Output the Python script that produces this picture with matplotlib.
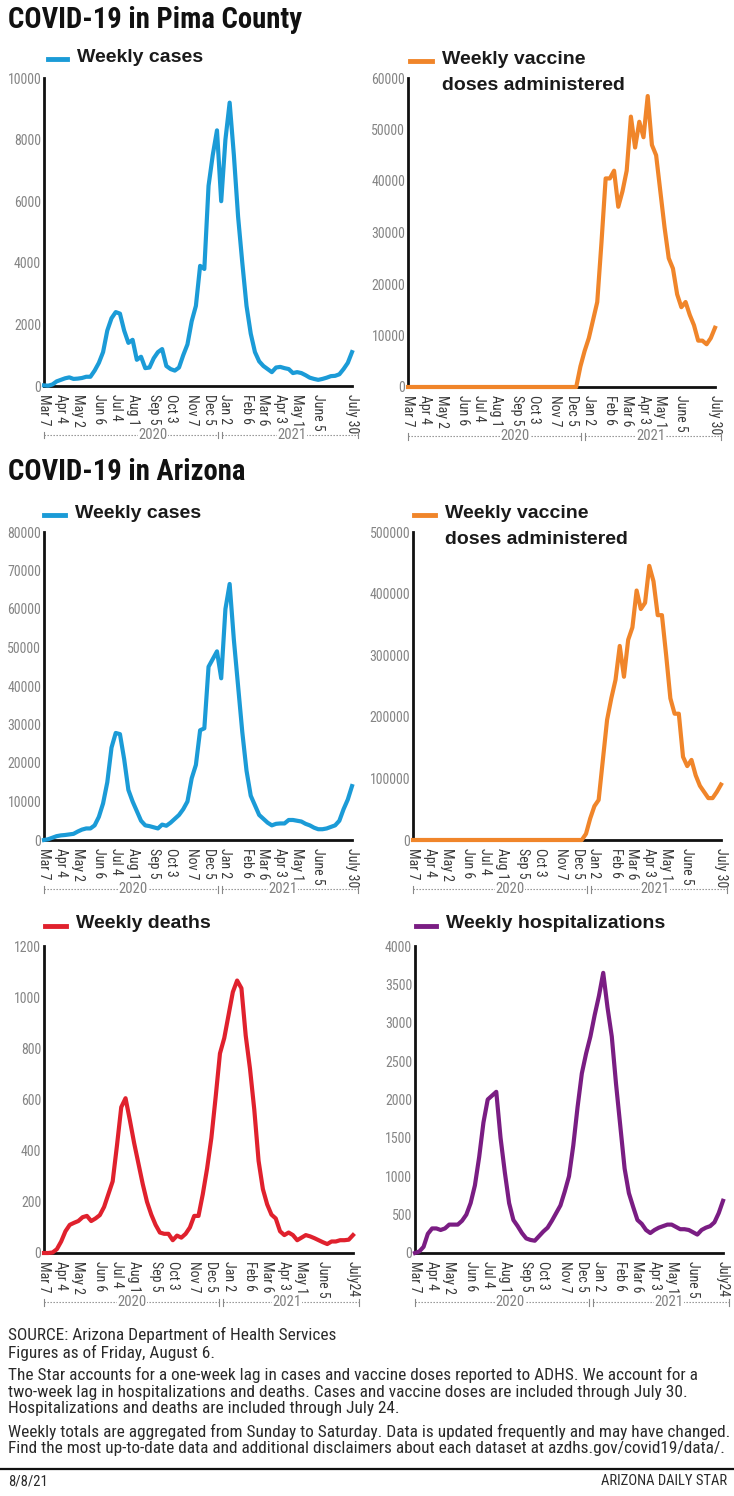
import numpy as np
import matplotlib
matplotlib.use('Agg')
import matplotlib.pyplot as plt
from matplotlib.lines import Line2D
from matplotlib import font_manager as fm

W, H = 734, 1496

# ---- data (weekly, first week = Mar 7 2020) ----
pima_cases = [20, 10, 50, 150, 200, 250, 280, 230, 240, 260, 300, 300, 500, 750, 1100,
              1800, 2200, 2400, 2350, 1800, 1400, 1500, 850, 950, 580, 600, 900, 1100,
              1200, 650, 550, 500, 600, 1000, 1350, 2100, 2600, 3900, 3800, 6500, 7500,
              8300, 6000, 8000, 9200, 7500, 5500, 4000, 2600, 1700, 1100, 800, 650, 550,
              450, 600, 620, 580, 550, 420, 450, 420, 350, 270, 230, 200, 230, 270, 320,
              330, 380, 550, 750, 1100]
pima_vax = [0] * 41 + [4000, 7000, 9500, 13000, 16500, 28000, 40500, 40500, 42000, 35000,
                       38000, 42000, 52500, 46500, 51500, 48500, 56500, 47000, 45000, 38000,
                       31000, 25000, 23000, 18000, 15500, 16500, 14000, 12000, 9000, 9000,
                       8300, 9500, 11500]
az_cases = [0, 200, 600, 1000, 1200, 1300, 1450, 1600, 2200, 2700, 3000, 3000, 3800, 6000,
            9500, 15000, 24000, 27800, 27500, 21000, 13000, 10000, 7500, 5000, 3800, 3600,
            3300, 3000, 4000, 3700, 4500, 5500, 6500, 8000, 10000, 16000, 19500, 28500,
            29000, 45000, 47000, 49000, 42000, 60000, 66500, 52000, 40000, 28000, 18000,
            11500, 9000, 6500, 5500, 4500, 3800, 4200, 4300, 4300, 5200, 5200, 5000, 4800,
            4200, 3800, 3200, 2800, 2800, 3000, 3400, 3800, 5000, 8000, 10500, 14000]
az_vax = [0] * 41 + [10000, 35000, 55000, 65000, 130000, 195000, 230000, 260000, 315000,
                     265000, 325000, 345000, 405000, 375000, 385000, 445000, 420000, 365000,
                     365000, 300000, 230000, 205000, 205000, 135000, 120000, 130000, 105000,
                     88000, 78000, 68000, 68000, 78000, 90000]
az_deaths = [0, 0, 2, 15, 45, 85, 110, 118, 125, 140, 145, 125, 135, 148, 180, 230, 280,
             420, 570, 605, 520, 430, 350, 270, 200, 150, 110, 80, 75, 75, 50, 68, 60, 75,
             100, 145, 145, 230, 330, 450, 610, 780, 840, 930, 1020, 1065, 1035, 850, 720,
             560, 360, 250, 190, 150, 135, 85, 70, 80, 70, 50, 60, 70, 65, 58, 50, 42, 35,
             45, 45, 50, 50, 52, 70]
az_hosp = [0, 20, 80, 250, 320, 320, 300, 320, 370, 370, 370, 420, 500, 650, 880, 1250,
           1700, 2000, 2050, 2100, 1500, 1050, 650, 430, 350, 260, 190, 170, 160, 220, 280,
           330, 420, 520, 620, 800, 1000, 1400, 1900, 2340, 2600, 2820, 3100, 3350, 3650,
           3200, 2820, 2200, 1650, 1100, 780, 600, 430, 380, 300, 260, 300, 330, 350, 370,
           370, 340, 310, 310, 300, 270, 240, 300, 330, 350, 400, 520, 680]

tick_weeks = [0, 4, 8, 13, 17, 21, 26, 30, 35, 39, 43, 48, 52, 56, 60, 65]
tick_labels = ['Mar 7', 'Apr 4', 'May 2', 'Jun 6', 'Jul 4', 'Aug 1', 'Sep 5', 'Oct 3',
               'Nov 7', 'Dec 5', 'Jan 2', 'Feb 6', 'Mar 6', 'Apr 3', 'May 1', 'June 5']

BLUE = '#1b9bd7'
ORANGE = '#f0852a'
RED = '#e0212d'
PURPLE = '#7a1d83'


def pick(*names):
    avail = {f.name for f in fm.fontManager.ttflist}
    for n in names:
        if n in avail:
            return n
    return 'DejaVu Sans'


NARROW = pick('Liberation Sans Narrow', 'Roboto Condensed', 'DejaVu Sans')
SANS = pick('Liberation Sans', 'Roboto', 'DejaVu Sans')

fig = plt.figure(figsize=(W / 100, H / 100), dpi=100)


def fx(x):
    return x / W


def fy(y):
    return 1 - y / H


def legend(x0, x1, y, color, lines):
    fig.add_artist(Line2D([fx(x0), fx(x1)], [fy(y), fy(y)], color=color, lw=3.5,
                          transform=fig.transFigure))
    for i, s in enumerate(lines):
        fig.text(fx(x1 + 10), fy(y - 2 + 27 * i), s, fontsize=14, fontweight='bold',
                 family=SANS, color='#1a1a1a', va='center', ha='left')


def panel(rect, values, color, ymax, ystep, last_label, yr):
    l, t, r, b = rect
    ax = fig.add_axes([fx(l), fy(b), (r - l) / W, (b - t) / H])
    x = np.arange(len(values))
    ax.plot(x, values, color=color, lw=3, clip_on=False, zorder=5,
            solid_joinstyle='round')
    ax.set_xlim(0, len(values) - 1)
    ax.set_ylim(0, ymax)
    ax.set_yticks(np.arange(0, ymax + 1, ystep))
    ax.set_xticks(tick_weeks + [len(values) - 1])
    ax.set_xticklabels(tick_labels + [last_label], rotation=270, fontsize=10,
                       family=NARROW, color='#3a3a3a', ha='center', va='top')
    for lab in ax.get_yticklabels():
        lab.set_family(NARROW)
        lab.set_fontsize(10)
        lab.set_color('#858585')
    ax.tick_params(length=0, pad=2)
    ax.tick_params(axis='x', pad=5.5)
    for s in ['top', 'right']:
        ax.spines[s].set_visible(False)
    for s in ['left', 'bottom']:
        ax.spines[s].set_linewidth(2)
        ax.spines[s].set_color('#111111')
    ax.patch.set_alpha(0)

    # year bracket under the dates
    yb = -49 / (b - t)
    h = 3.5 / (b - t)
    kw = dict(transform=ax.transAxes, clip_on=False, color='#888888', lw=0.8)
    ax.plot([0, 0.565], [yb, yb], ls=(0, (1.2, 1.5)), **kw)
    ax.plot([0.578, 1.02], [yb, yb], ls=(0, (1.2, 1.5)), **kw)
    for xv in [0, 0.565, 0.578, 1.02]:
        ax.plot([xv, xv], [yb - h, yb + h], **kw)
    for xv, s in zip(yr, ['2020', '2021']):
        ax.text(xv, yb, s, transform=ax.transAxes, ha='center', va='center',
                fontsize=10.5, family=NARROW, color='#808080',
                bbox=dict(fc='white', ec='none', pad=0.3))
    return ax


# section titles
fig.text(fx(8), fy(20), 'COVID-19 in Pima County', fontsize=20.6, fontweight='bold',
         family=NARROW, color='#111111', va='center', ha='left')
fig.text(fx(8), fy(472), 'COVID-19 in Arizona', fontsize=20.6, fontweight='bold',
         family=NARROW, color='#111111', va='center', ha='left')

# Pima
panel((44, 78, 352, 386), pima_cases, BLUE, 10000, 2000, 'July 30', (0.354, 0.805))
legend(48, 67, 59, BLUE, ['Weekly cases'])
panel((408, 78, 715, 387), pima_vax, ORANGE, 60000, 10000, 'July 30', (0.35, 0.79))
legend(410, 432, 61, ORANGE, ['Weekly vaccine', 'doses administered'])

# Arizona
panel((44, 532, 352, 840), az_cases, BLUE, 80000, 10000, 'July 30', (0.29, 0.776))
legend(44, 65, 515, BLUE, ['Weekly cases'])
panel((413, 532, 721, 840), az_vax, ORANGE, 500000, 100000, 'July 30', (0.315, 0.786))
legend(414, 435, 515, ORANGE, ['Weekly vaccine', 'doses administered'])

panel((44, 946, 353, 1253), az_deaths, RED, 1200, 200, 'July24', (0.285, 0.787))
legend(45, 66, 926, RED, ['Weekly deaths'])
panel((415, 946, 723, 1253), az_hosp, PURPLE, 4000, 500, 'July24', (0.31, 0.825))
legend(416, 436, 926, PURPLE, ['Weekly hospitalizations'])

# footer
notes = [
    (1335, 'SOURCE: Arizona Department of Health Services'),
    (1353, 'Figures as of Friday, August 6.'),
    (1375, 'The Star accounts for a one-week lag in cases and vaccine doses reported to ADHS. We account for a'),
    (1392, 'two-week lag in hospitalizations and deaths. Cases and vaccine doses are included through July 30.'),
    (1409, 'Hospitalizations and deaths are included through July 24.'),
    (1432, 'Weekly totals are aggregated from Sunday to Saturday. Data is updated frequently and may have changed.'),
    (1449, 'Find the most up-to-date data and additional disclaimers about each dataset at azdhs.gov/covid19/data/.'),
]
for yy, s in notes:
    fig.text(fx(8), fy(yy), s, fontsize=12.4, family=NARROW, color='#2a2a2a',
             va='center', ha='left')

fig.add_artist(Line2D([0, 1], [fy(1469), fy(1469)], color='#111111', lw=1.6,
                      transform=fig.transFigure))
fig.text(fx(8), fy(1481), '8/8/21', fontsize=10.5, family=NARROW, color='#2a2a2a',
         va='center', ha='left')
fig.text(fx(727), fy(1481), 'ARIZONA DAILY STAR', fontsize=10.5, family=NARROW,
         color='#2a2a2a', va='center', ha='right')

fig.savefig('out.png', dpi=100, facecolor='white')
